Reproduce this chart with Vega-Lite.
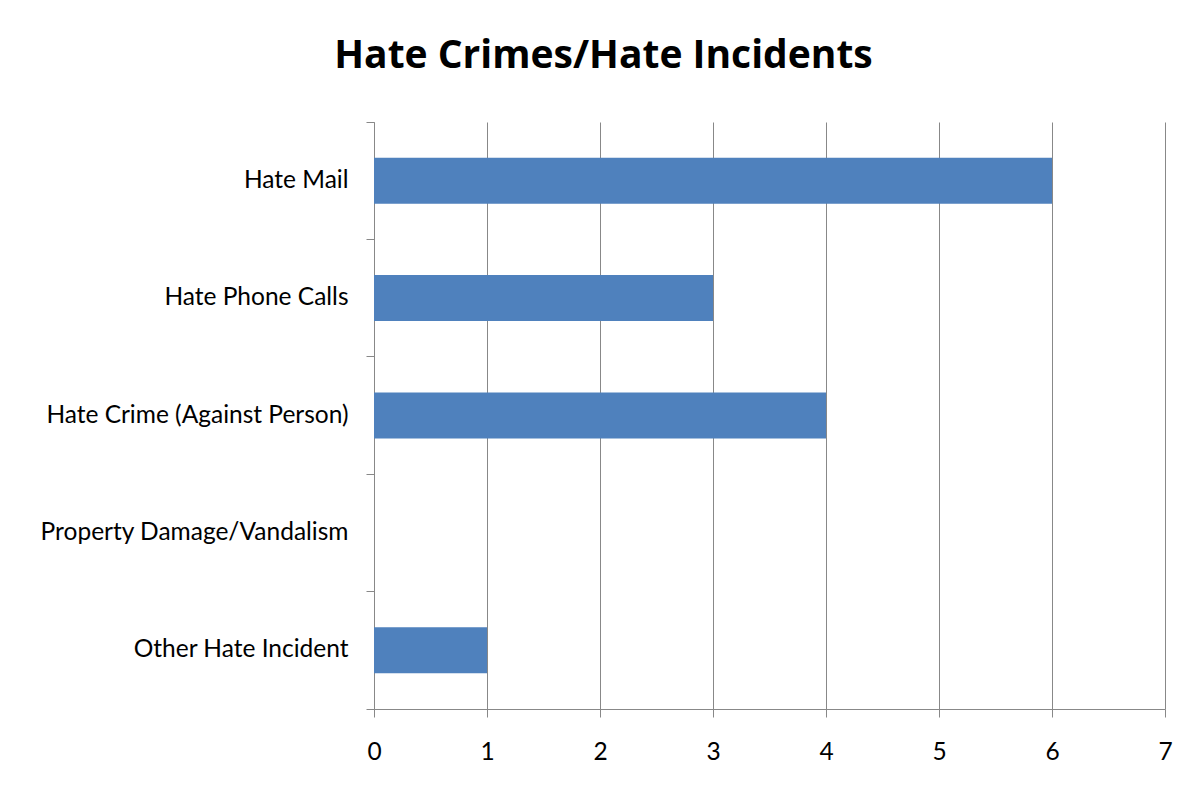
{
  "$schema": "https://vega.github.io/schema/vega-lite/v6.json",
  "autosize": {"type": "none"},
  "width": 791,
  "height": 587,
  "padding": {"left": 374, "top": 122, "right": 29, "bottom": 82},
  "background": "white",
  "title": {
    "text": "Hate Crimes/Hate Incidents",
    "font": "Open Sans",
    "fontSize": 39,
    "fontWeight": "bold",
    "color": "black",
    "anchor": "middle",
    "baseline": "alphabetic",
    "dx": -166,
    "offset": 2
  },
  "data": {
    "values": [
      {"category": "Hate Mail", "count": 6},
      {"category": "Hate Phone Calls", "count": 3},
      {"category": "Hate Crime (Against Person)", "count": 4},
      {"category": "Property Damage/Vandalism", "count": 0},
      {"category": "Other Hate Incident", "count": 1}
    ]
  },
  "mark": {"type": "bar", "color": "#4F81BD", "height": {"band": 0.392}},
  "encoding": {
    "y": {
      "field": "category",
      "type": "nominal",
      "sort": null,
      "scale": {"paddingInner": 0, "paddingOuter": 0},
      "axis": {
        "title": null,
        "bandPosition": 1,
        "tickExtra": true,
        "tickSize": 8,
        "tickColor": "#888888",
        "domainColor": "#888888",
        "labelPadding": 18,
        "labelFont": "Lato",
        "labelFontSize": 24.5,
        "labelColor": "black",
        "labelLimit": 400,
        "grid": false
      }
    },
    "x": {
      "field": "count",
      "type": "quantitative",
      "scale": {"domain": [0, 7], "nice": false},
      "axis": {
        "title": null,
        "values": [0, 1, 2, 3, 4, 5, 6, 7],
        "grid": true,
        "gridColor": "#888888",
        "gridOpacity": 1,
        "tickSize": 8,
        "tickColor": "#888888",
        "domainColor": "#888888",
        "labelPadding": 23,
        "labelFont": "Lato",
        "labelFontSize": 24.5,
        "labelColor": "black",
        "labelFlush": false
      }
    }
  },
  "config": {"view": {"stroke": null}}
}
